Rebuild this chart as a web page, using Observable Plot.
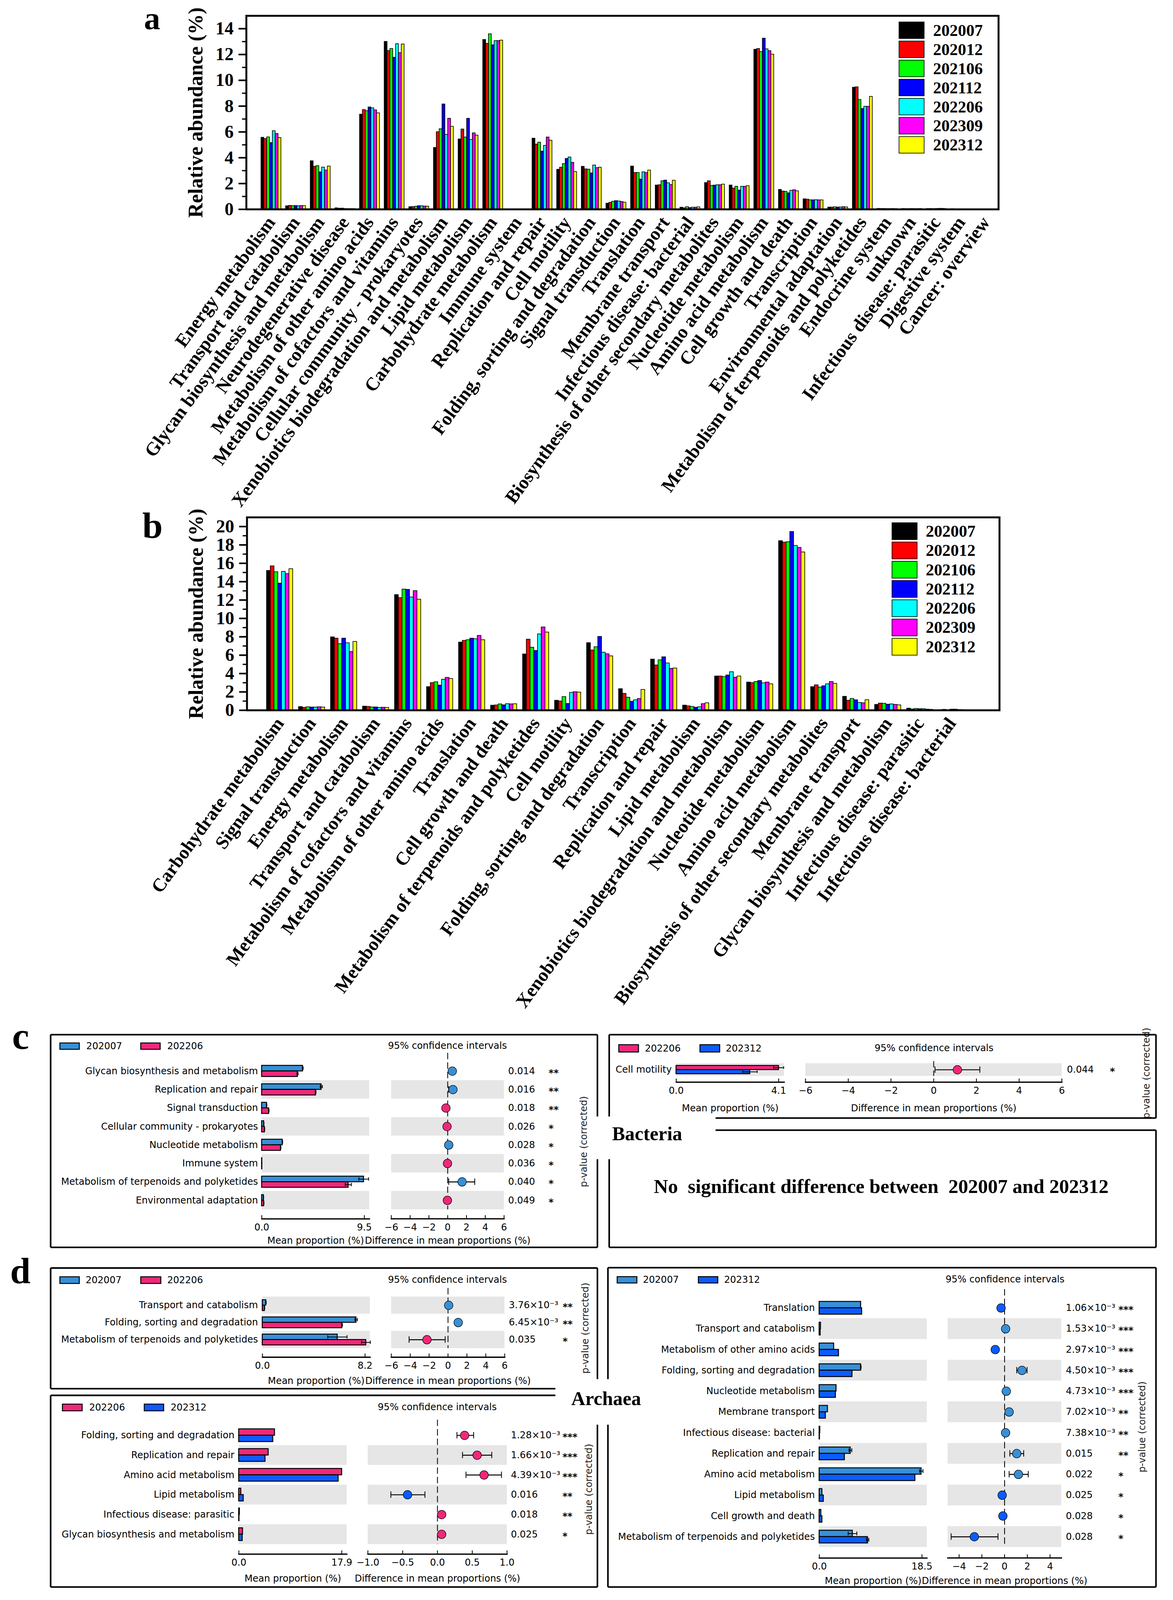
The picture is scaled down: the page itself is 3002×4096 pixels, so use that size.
<!DOCTYPE html>
<html><head><meta charset="utf-8">
<script src="https://cdn.jsdelivr.net/npm/d3@7"></script>
<script src="https://cdn.jsdelivr.net/npm/@observablehq/plot@0.6"></script>
<style>
html,body{margin:0;padding:0;background:#fff}
#fig{position:relative;width:3002px;height:4096px;overflow:hidden;background:#fff}
#fig svg{position:absolute;overflow:visible}
</style></head><body><div id="fig"></div>
<script>
// ---------------- DATA ----------------
const seriesNames = ["202007","202012","202106","202112","202206","202309","202312"];

const catsA = ["Energy metabolism","Transport and catabolism","Glycan biosynthesis and metabolism","Neurodegenerative disease","Metabolism of other amino acids","Metabolism of cofactors and vitamins","Cellular community - prokaryotes","Xenobiotics biodegradation and metabolism","Lipid metabolism","Carbohydrate metabolism","Immune system","Replication and repair","Cell motility","Folding, sorting and degradation","Signal transduction","Translation","Membrane transport","Infectious disease: bacterial","Biosynthesis of other secondary metabolites","Nucleotide metabolism","Amino acid metabolism","Cell growth and death","Transcription","Environmental adaptation","Metabolism of terpenoids and polyketides","Endocrine system","unknown","Infectious disease: parasitic","Digestive system","Cancer: overview"];
const a202007 = [5.57,0.26,3.75,0.10,7.36,13.00,0.19,4.78,5.44,13.15,0.02,5.50,3.09,3.32,0.46,3.34,1.87,0.15,2.06,1.87,12.39,1.53,0.80,0.16,9.45,0.06,0.05,0.05,0.03,0.02];
const a202012 = [5.47,0.29,3.32,0.07,7.72,12.29,0.20,6.00,6.21,12.85,0.02,5.04,3.25,3.12,0.53,2.84,1.89,0.10,2.20,1.63,12.45,1.40,0.77,0.16,9.48,0.05,0.04,0.05,0.02,0.01];
const a202106 = [5.60,0.27,3.37,0.08,7.63,12.45,0.22,6.23,5.59,13.59,0.02,5.19,3.53,3.10,0.61,2.84,2.20,0.19,1.84,1.77,12.21,1.38,0.72,0.18,8.50,0.05,0.04,0.04,0.02,0.01];
const a202112 = [5.16,0.28,2.89,0.05,7.92,11.77,0.27,8.15,7.04,12.74,0.02,4.50,3.93,2.81,0.66,2.33,2.25,0.12,1.86,1.48,13.25,1.26,0.72,0.16,7.80,0.04,0.05,0.05,0.02,0.01];
const a202206 = [6.08,0.26,3.26,0.04,7.85,12.82,0.26,5.79,5.40,13.06,0.02,4.94,4.04,3.42,0.63,2.89,2.04,0.15,1.89,1.77,12.42,1.46,0.73,0.17,7.97,0.04,0.04,0.06,0.02,0.01];
const a202309 = [5.86,0.28,3.03,0.04,7.69,12.13,0.24,7.04,5.91,13.06,0.02,5.59,3.63,3.22,0.59,2.84,1.91,0.15,1.89,1.77,12.28,1.50,0.72,0.19,7.97,0.05,0.04,0.06,0.02,0.01];
const a202312 = [5.55,0.27,3.34,0.04,7.46,12.80,0.23,6.42,5.74,13.10,0.02,5.34,2.91,3.25,0.54,3.03,2.24,0.18,1.94,1.82,12.01,1.42,0.72,0.17,8.74,0.04,0.05,0.05,0.02,0.01];

const catsB = ["Carbohydrate metabolism","Signal transduction","Energy metabolism","Transport and catabolism","Metabolism of cofactors and vitamins","Metabolism of other amino acids","Translation","Cell growth and death","Metabolism of terpenoids and polyketides","Cell motility","Folding, sorting and degradation","Transcription","Replication and repair","Lipid metabolism","Xenobiotics biodegradation and metabolism","Nucleotide metabolism","Amino acid metabolism","Biosynthesis of other secondary metabolites","Membrane transport","Glycan biosynthesis and metabolism","Infectious disease: parasitic","Infectious disease: bacterial"];
const b202007 = [15.20,0.38,7.97,0.43,12.57,2.55,7.40,0.53,6.11,1.07,7.34,2.33,5.55,0.54,3.71,3.05,18.44,2.55,1.50,0.62,0.21,0.05];
const b202012 = [15.70,0.30,7.83,0.40,12.24,2.99,7.59,0.56,7.72,0.99,6.54,1.82,4.91,0.46,3.71,2.99,18.28,2.75,1.07,0.76,0.12,0.08];
const b202106 = [15.06,0.36,7.23,0.34,13.17,3.08,7.66,0.67,6.84,1.47,6.90,1.40,5.47,0.40,3.64,3.11,18.33,2.51,1.26,0.74,0.18,0.04];
const b202112 = [13.82,0.33,7.83,0.34,13.14,2.72,7.83,0.57,6.49,0.72,8.02,0.96,5.80,0.31,3.82,3.22,19.44,2.65,1.12,0.64,0.15,0.10];
const b202206 = [15.10,0.33,7.33,0.29,12.31,3.36,7.76,0.70,8.29,1.93,6.30,1.12,5.13,0.36,4.18,2.96,17.92,2.86,0.83,0.67,0.15,0.10];
const b202309 = [14.86,0.36,6.37,0.31,13.00,3.56,8.13,0.67,9.05,2.00,6.13,1.26,4.54,0.70,3.58,3.05,17.71,3.11,0.79,0.62,0.10,0.06];
const b202312 = [15.39,0.33,7.47,0.29,12.07,3.44,7.66,0.69,8.49,1.96,5.90,2.25,4.58,0.79,3.71,2.86,17.21,2.91,1.13,0.57,0.08,0.05];

// STAMP c (Bacteria) 202007 vs 202206
const cL_names = ["Glycan biosynthesis and metabolism","Replication and repair","Signal transduction","Cellular community - prokaryotes","Nucleotide metabolism","Immune system","Metabolism of terpenoids and polyketides","Environmental adaptation"];
const cL_m1 = [3.79,5.51,0.45,0.19,1.91,0.02,9.44,0.16];
const cL_e1 = [0.04,0.10,0.02,0.01,0.02,0,0.45,0.01];
const cL_m2 = [3.31,4.99,0.65,0.26,1.75,0.02,8.01,0.19];
const cL_e2 = [0.05,0.03,0.02,0.01,0.02,0,0.28,0.01];
const cL_d  = [0.49,0.56,-0.19,-0.07,0.11,-0.02,1.53,-0.03];
const cL_lo = [0.40,0.10,-0.25,-0.09,0.05,-0.03,0.11,-0.05];
const cL_hi = [0.58,0.70,-0.13,-0.05,0.17,-0.01,2.88,-0.01];
const cL_p  = ["0.014","0.016","0.018","0.026","0.028","0.036","0.040","0.049"];
const cL_st = ["**","**","**","*","*","*","*","*"];

// STAMP c (Bacteria) 202206 vs 202312
const cR_names = ["Cell motility"];
const cR_m1 = [4.10]; const cR_e1 = [0.20];
const cR_m2 = [2.95]; const cR_e2 = [0.29];
const cR_d = [1.11]; const cR_lo = [0.06]; const cR_hi = [2.16];
const cR_p = ["0.044"]; const cR_st = ["*"];

// STAMP d (Archaea) 202007 vs 202206
const dA_names = ["Transport and catabolism","Folding, sorting and degradation","Metabolism of terpenoids and polyketides"];
const dA_m1 = [0.28,7.49,5.99]; const dA_e1 = [0.02,0.10,0.77];
const dA_m2 = [0.17,6.36,8.27]; const dA_e2 = [0.01,0.03,0.35];
const dA_d = [0.07,1.08,-2.23]; const dA_lo = [0.03,0.95,-4.12]; const dA_hi = [0.11,1.21,-0.30];
const dA_p = ["3.76×10⁻³","6.45×10⁻³","0.035"]; const dA_st = ["**","**","*"];

// STAMP d (Archaea) 202206 vs 202312
const dB_names = ["Folding, sorting and degradation","Replication and repair","Amino acid metabolism","Lipid metabolism","Infectious disease: parasitic","Glycan biosynthesis and metabolism"];
const dB_m1 = [6.23,5.13,17.91,0.37,0.12,0.67]; const dB_e1 = [0,0,0,0,0,0];
const dB_m2 = [5.93,4.58,17.30,0.79,0.06,0.61]; const dB_e2 = [0,0,0,0,0,0];
const dB_d = [0.39,0.57,0.67,-0.43,0.06,0.06];
const dB_lo = [0.28,0.36,0.41,-0.67,0.05,0.05];
const dB_hi = [0.52,0.78,0.92,-0.18,0.07,0.07];
const dB_p = ["1.28×10⁻³","1.66×10⁻³","4.39×10⁻³","0.016","0.018","0.025"]; const dB_st = ["***","***","***","**","**","*"];

// STAMP d (Archaea) 202007 vs 202312
const dC_names = ["Translation","Transport and catabolism","Metabolism of other amino acids","Folding, sorting and degradation","Nucleotide metabolism","Membrane transport","Infectious disease: bacterial","Replication and repair","Amino acid metabolism","Lipid metabolism","Cell growth and death","Metabolism of terpenoids and polyketides"];
const dC_m1 = [7.48,0.25,2.62,7.48,3.05,1.50,0.12,5.61,18.38,0.50,0.31,5.98];
const dC_e1 = [0,0,0,0.05,0,0,0,0.25,0.30,0,0,0.78];
const dC_m2 = [7.66,0.19,3.49,5.92,2.93,1.12,0.06,4.55,17.26,0.75,0.50,8.72];
const dC_e2 = [0,0,0,0,0,0,0,0,0,0,0,0.20];
const dC_d = [-0.31,0.09,-0.82,1.53,0.15,0.40,0.09,1.07,1.22,-0.21,-0.15,-2.66];
const dC_lo = [-0.35,0.07,-0.90,1.07,0.12,0.35,0.07,0.46,0.40,-0.25,-0.18,-4.70];
const dC_hi = [-0.27,0.11,-0.74,1.98,0.18,0.45,0.11,1.68,2.08,-0.17,-0.12,-0.58];
const dC_p = ["1.06×10⁻³","1.53×10⁻³","2.97×10⁻³","4.50×10⁻³","4.73×10⁻³","7.02×10⁻³","7.38×10⁻³","0.015","0.022","0.025","0.028","0.028"];
const dC_st = ["***","***","***","***","***","**","**","**","*","*","*","*"];

// ---------------- STYLE / LAYOUT ----------------
const S = 0.815;
const SERIF = "'Liberation Serif','Times New Roman',serif";
const SANS = "'DejaVu Sans',Verdana,sans-serif";
const seriesColors = ["#000000","#ff0000","#00ff00","#0000ff","#00ffff","#ff00ff","#ffff00"];
const C07 = "#3790d7", C06 = "#f0287a", C12 = "#0b5cff";
const fig = document.getElementById("fig");

function place(svg, left, top) {
  svg.style.left = (left * S) + "px";
  svg.style.top = (top * S) + "px";
  fig.appendChild(svg);
}

function grouped(cfg) {
  const {cats, series, top, svgH, fL, fR, fT, fB, yMax, pi, po, align} = cfg;
  const n = cats.length, m = series.length;
  const step = (fR - fL) * S / (n - pi + 2 * po);
  const w = step * (1 - pi) / m;
  const data = series.flatMap((vals, k) => vals.map((v, i) => ({cat: cats[i], k, value: v})));
  const svg = Plot.plot({
    width: 3679 * S, height: svgH * S,
    marginLeft: fL * S, marginRight: (3679 - fR) * S,
    marginTop: (fT - top) * S, marginBottom: (top + svgH - fB) * S,
    style: {fontFamily: SERIF, fontWeight: "bold", background: "transparent", overflow: "visible", color: "#000"},
    x: {type: "band", domain: cats, paddingInner: pi, paddingOuter: po, align, round: false},
    y: {domain: [0, yMax]},
    marks: [
      ...series.map((_, k) => Plot.barY(data.filter(d => d.k === k), {
        x: "cat", y: "value", fill: seriesColors[k], stroke: "#000", strokeWidth: 2 * S,
        insetLeft: k * w, insetRight: (m - 1 - k) * w
      })),
      Plot.frame({stroke: "#000", strokeWidth: 6 * S}),
      Plot.axisY({ticks: d3.range(0, yMax + 0.01, 2), tickSize: 24 * S, tickPadding: 16 * S, strokeWidth: 5 * S,
        fontSize: 57 * S, label: null}),
      Plot.axisY({ticks: [], tickSize: 0, fontSize: 64 * S, label: "Relative abundance (%)", labelAnchor: "center", labelOffset: 184 * S, labelArrow: "none"}),
      Plot.axisY({ticks: d3.range(1, yMax, 2), tickSize: 13 * S, strokeWidth: 4 * S, tickFormat: () => "", label: null}),
      Plot.axisX({tickSize: 0, tickRotate: -54, tickPadding: 30 * S, fontSize: 59 * S, label: null})
    ]
  });
  place(svg, 0, top);
}

grouped({cats: catsA, series: [a202007,a202012,a202106,a202112,a202206,a202309,a202312],
  top: 0, svgH: 1610, fL: 773, fR: 3135, fT: 49, fB: 657, yMax: 15, pi: 0.193, po: 0.358, align: 0.84});
grouped({cats: catsB, series: [b202007,b202012,b202106,b202112,b202206,b202309,b202312],
  top: 1560, svgH: 1640, fL: 775, fR: 3138, fT: 1625, fB: 2231, yMax: 21, pi: 0.184, po: 0.848, align: 0.364});

function stamp(c) {
  const rows = c.names.map((name, i) => ({name, m1: c.m1[i], e1: c.e1[i], m2: c.m2[i], e2: c.e2[i],
    d: c.d[i], lo: c.lo[i], hi: c.hi[i], p: c.p[i], st: c.st[i]}));
  const n = rows.length;
  const gray = c.names.filter((_, i) => (n - 1 - i) % 2 === 0);
  const top = c.frameTop - 10, bottom = c.axisY + 110;
  const yr = [(c.rowTop - top) * S, (c.rowBottom - top) * S];
  const step = (yr[1] - yr[0]) / n;
  const bh = c.barH * S;
  const common = {
    height: (bottom - top) * S,
    marginTop: (c.frameTop - top) * S,
    marginBottom: (bottom - c.axisY) * S,
    style: {fontFamily: SANS, fontSize: (29.5 * S) + "px", background: "transparent", overflow: "visible", color: "#000"}
  };
  const yScale = {type: "band", domain: c.names, range: yr, padding: 0, round: false};
  const cap = bh * 0.3;
  const tickOpts = {tickSize: -11 * S, tickPadding: 26 * S, strokeWidth: 2.5 * S, labelAnchor: "center", labelOffset: c.labOff * S, labelArrow: "none"};
  const meanSvg = Plot.plot({
    ...common,
    width: (c.meanRight - c.boxLeft) * S,
    marginLeft: (c.meanLeft - c.boxLeft) * S, marginRight: 0,
    x: {domain: [0, c.meanMax]},
    y: yScale,
    marks: [
      Plot.barX(gray, {y: d => d, x1: 0, x2: c.meanMax, fill: "#e6e6e6"}),
      Plot.barX(rows, {y: "name", x: "m1", fill: c.c1, stroke: "#000", strokeWidth: 3 * S, insetTop: step / 2 - bh, insetBottom: step / 2}),
      Plot.barX(rows, {y: "name", x: "m2", fill: c.c2, stroke: "#000", strokeWidth: 3 * S, insetTop: step / 2, insetBottom: step / 2 - bh}),
      Plot.ruleY(rows.filter(d => d.e1 > 0), {y: "name", x1: d => d.m1 - d.e1, x2: d => d.m1 + d.e1, dy: -bh / 2, stroke: "#000", strokeWidth: 2.5 * S}),
      Plot.ruleY(rows.filter(d => d.e2 > 0), {y: "name", x1: d => d.m2 - d.e2, x2: d => d.m2 + d.e2, dy: bh / 2, stroke: "#000", strokeWidth: 2.5 * S}),
      Plot.tickX(rows.filter(d => d.e1 > 0), {y: "name", x: d => d.m1 + d.e1, insetTop: step / 2 - bh / 2 - cap, insetBottom: step / 2 + bh / 2 - cap, strokeWidth: 2.5 * S}),
      Plot.tickX(rows.filter(d => d.e1 > 0), {y: "name", x: d => d.m1 - d.e1, insetTop: step / 2 - bh / 2 - cap, insetBottom: step / 2 + bh / 2 - cap, strokeWidth: 2.5 * S}),
      Plot.tickX(rows.filter(d => d.e2 > 0), {y: "name", x: d => d.m2 + d.e2, insetTop: step / 2 + bh / 2 - cap, insetBottom: step / 2 - bh / 2 - cap, strokeWidth: 2.5 * S}),
      Plot.tickX(rows.filter(d => d.e2 > 0), {y: "name", x: d => d.m2 - d.e2, insetTop: step / 2 + bh / 2 - cap, insetBottom: step / 2 - bh / 2 - cap, strokeWidth: 2.5 * S}),
      Plot.frame({anchor: "bottom", stroke: "#000", strokeWidth: 4 * S}),
      Plot.axisX({...tickOpts, ticks: [0, c.meanTick], tickFormat: d => d.toFixed(1), label: "Mean proportion (%)"}),
      Plot.axisY({tickSize: 0, tickPadding: (c.meanLeft - c.labelRight) * S, label: null})
    ]
  });
  place(meanSvg, c.boxLeft, top);
  const fmt = c.diffFmt || (d => String(d).replace("-", "−"));
  const diffSvg = Plot.plot({
    ...common,
    width: (c.boxRight - c.diffLeft) * S,
    marginLeft: 0, marginRight: (c.boxRight - c.diffRight) * S,
    x: {domain: c.diffDomain},
    y: {...yScale, axis: null},
    marks: [
      Plot.barX(gray, {y: d => d, x1: c.diffDomain[0], x2: c.diffDomain[1], fill: "#e6e6e6"}),
      Plot.ruleX([0], {stroke: "#000", strokeWidth: 2.5 * S, strokeDasharray: `${20 * S},${10 * S}`, insetBottom: (c.axisY - c.rowBottom) * S}),
      Plot.ruleY(rows, {y: "name", x1: "lo", x2: "hi", stroke: "#000", strokeWidth: 3 * S}),
      Plot.tickX(rows, {y: "name", x: "lo", insetTop: step / 2 - 10 * S, insetBottom: step / 2 - 10 * S, strokeWidth: 2.5 * S}),
      Plot.tickX(rows, {y: "name", x: "hi", insetTop: step / 2 - 10 * S, insetBottom: step / 2 - 10 * S, strokeWidth: 2.5 * S}),
      Plot.dot(rows.filter(d => d.d >= 0), {x: "d", y: "name", r: 13.5 * S, fill: c.c1, stroke: "#000", strokeWidth: 1.5 * S}),
      Plot.dot(rows.filter(d => d.d < 0), {x: "d", y: "name", r: 13.5 * S, fill: c.c2, stroke: "#000", strokeWidth: 1.5 * S}),
      Plot.text(rows, {y: "name", text: "p", frameAnchor: "right", textAnchor: "start", dx: (c.pX - c.diffRight) * S, fontSize: 29.5 * S}),
      Plot.text(rows, {y: "name", text: "st", frameAnchor: "right", textAnchor: "start", dx: (c.starX - c.diffRight) * S, dy: 6 * S, fontSize: 30 * S, fontWeight: "bold"}),
      Plot.frame({anchor: "bottom", stroke: "#000", strokeWidth: 4 * S}),
      Plot.axisX({...tickOpts, ticks: c.diffTicks, tickFormat: fmt, label: "Difference in mean proportions (%)"})
    ]
  });
  place(diffSvg, c.diffLeft, top);
}

const six = [-6,-4,-2,0,2,4,6];
stamp({names: cL_names, m1: cL_m1, e1: cL_e1, m2: cL_m2, e2: cL_e2, d: cL_d, lo: cL_lo, hi: cL_hi, p: cL_p, st: cL_st, c1: C07, c2: C06,
  boxLeft: 159, boxRight: 1876, frameTop: 3307, rowTop: 3335, rowBottom: 3799, axisY: 3828, labOff: 78,
  labelRight: 809, meanLeft: 821, meanRight: 1159, meanMax: 9.97, meanTick: 9.5,
  diffLeft: 1228, diffRight: 1582, diffDomain: [-6, 6], diffTicks: six, pX: 1595, starX: 1722, barH: 17.5});
stamp({names: cR_names, m1: cR_m1, e1: cR_e1, m2: cR_m2, e2: cR_e2, d: cR_d, lo: cR_lo, hi: cR_hi, p: cR_p, st: cR_st, c1: C06, c2: C12,
  boxLeft: 1913, boxRight: 3630, frameTop: 3333, rowTop: 3340, rowBottom: 3380, axisY: 3399, labOff: 92,
  labelRight: 2109, meanLeft: 2123, meanRight: 2462, meanMax: 4.32, meanTick: 4.1,
  diffLeft: 2529, diffRight: 3334, diffDomain: [-6, 6], diffTicks: six, pX: 3350, starX: 3485, barH: 13});
stamp({names: dA_names, m1: dA_m1, e1: dA_e1, m2: dA_m2, e2: dA_e2, d: dA_d, lo: dA_lo, hi: dA_hi, p: dA_p, st: dA_st, c1: C07, c2: C06,
  boxLeft: 159, boxRight: 1876, frameTop: 4045, rowTop: 4072, rowBottom: 4234, axisY: 4262, labOff: 84,
  labelRight: 809, meanLeft: 823, meanRight: 1161, meanMax: 8.6, meanTick: 8.2,
  diffLeft: 1228, diffRight: 1584, diffDomain: [-6, 6], diffTicks: six, pX: 1597, starX: 1766, barH: 17});
stamp({names: dB_names, m1: dB_m1, e1: dB_e1, m2: dB_m2, e2: dB_e2, d: dB_d, lo: dB_lo, hi: dB_hi, p: dB_p, st: dB_st, c1: C06, c2: C12,
  boxLeft: 159, boxRight: 1876, frameTop: 4459, rowTop: 4477, rowBottom: 4850, axisY: 4881, labOff: 86,
  labelRight: 735, meanLeft: 749, meanRight: 1088, meanMax: 18.78, meanTick: 17.9,
  diffLeft: 1155, diffRight: 1592, diffDomain: [-1, 1], diffTicks: [-1,-0.5,0,0.5,1], diffFmt: d => d.toFixed(1).replace("-", "−"),
  pX: 1604, starX: 1766, barH: 20});
stamp({names: dC_names, m1: dC_m1, e1: dC_e1, m2: dC_m2, e2: dC_e2, d: dC_d, lo: dC_lo, hi: dC_hi, p: dC_p, st: dC_st, c1: C07, c2: C12,
  boxLeft: 1909, boxRight: 3630, frameTop: 4049, rowTop: 4075, rowBottom: 4859, axisY: 4893, labOff: 81,
  labelRight: 2558, meanLeft: 2572, meanRight: 2910, meanMax: 19.4, meanTick: 18.5,
  diffLeft: 2976, diffRight: 3333, diffDomain: [-5, 5], diffTicks: [-4,-2,0,2,4], pX: 3347, starX: 3512, barH: 20});

// ---------------- OVERLAY: legends, labels, boxes ----------------
const ov = d3.create("svg").attr("width", 3002).attr("height", 4096)
  .style("left", "0px").style("top", "0px").style("pointer-events", "none");
function T(x, y, s, o = {}) {
  const t = ov.append("text").attr("x", x * S).attr("y", y * S).text(s)
    .attr("font-family", o.family || SANS).attr("font-size", (o.size || 29.5) * S)
    .attr("font-weight", o.weight || "normal").attr("fill", o.fill || "#000")
    .attr("text-anchor", o.anchor || "start").style("white-space", "pre");
  if (o.base) t.attr("dominant-baseline", o.base);
  if (o.rotate) t.attr("transform", `rotate(${o.rotate},${x * S},${y * S})`);
  return t;
}
function R(x, y, w, h, fill, sw) {
  ov.append("rect").attr("x", x * S).attr("y", y * S).attr("width", w * S).attr("height", h * S)
    .attr("fill", fill).attr("stroke", "#000").attr("stroke-width", sw * S);
}
// panel a / b legends
seriesNames.forEach((s, k) => {
  R(2823, 69 + k * 60, 79, 52, seriesColors[k], 2);
  T(2930, 95 + k * 60, s, {family: SERIF, weight: "bold", size: 52, base: "central"});
  R(2801, 1642 + k * 60.5, 79, 53, seriesColors[k], 2);
  T(2907, 1668 + k * 60.5, s, {family: SERIF, weight: "bold", size: 52, base: "central"});
});
// panel letters
T(452, 92, "a", {family: SERIF, weight: "bold", size: 102});
T(447, 1689, "b", {family: SERIF, weight: "bold", size: 115});
T(38, 3294, "c", {family: SERIF, weight: "bold", size: 120});
T(32, 4031, "d", {family: SERIF, weight: "bold", size: 115});
T(1922, 3582, "Bacteria", {family: SERIF, weight: "bold", size: 61});
T(1794, 4414, "Archaea", {family: SERIF, weight: "bold", size: 61});
T(2767, 3747, "No  significant difference between  202007 and 202312", {family: SERIF, weight: "bold", size: 62, anchor: "middle"});
// STAMP legends
function leg(y, b1, t1, c1, l1, b2, t2, c2, l2, h, ciX, ciY) {
  R(b1[0], y - h / 2, b1[1] - b1[0], h, c1, 3);
  T(t1, y, l1, {base: "central"});
  R(b2[0], y - h / 2, b2[1] - b2[0], h, c2, 3);
  T(t2, y, l2, {base: "central"});
  T(ciX, ciY, "95% confidence intervals", {anchor: "middle", base: "central"});
}
leg(3286, [188,249], 271, C07, "202007", [442,503], 525, C06, "202206", 20, 1405, 3285);
leg(3293, [1943,2005], 2025, C06, "202206", [2198,2260], 2279, C12, "202312", 23, 2933, 3292);
leg(4021, [188,249], 269, C07, "202007", [442,505], 525, C06, "202206", 21, 1405, 4020);
leg(4421, [196,258], 280, C06, "202206", [453,514], 536, C12, "202312", 21, 1373, 4420);
leg(4020, [1938,2000], 2019, C07, "202007", [2193,2254], 2274, C12, "202312", 20, 3156, 4018);
// p-value (corrected) labels
[[1832,3586],[3600,3371],[1838,4172],[1849,4678],[3586,4482]].forEach(([x, y]) =>
  T(x, y, "p-value (corrected)", {anchor: "middle", base: "central", rotate: -90, size: 30, fill: "#222"}));
// box lines
const boxPaths = [
  "M159,3250H1876 M159,3250V3918 M159,3918H1876 M1876,3250V3507 M1876,3641V3918",
  "M1913,3250H3630 M1913,3250V3507 M2247,3512H3630 M3630,3250V3512 M2247,3550H3630 M1913,3641V3918 M1913,3918H3630 M3630,3550V3918",
  "M159,3983H1876 M159,3983V4362 M159,4362H1744 M1876,3983V4332",
  "M159,4383H1744 M159,4383V4985 M159,4985H1876 M1876,4475V4985",
  "M1909,3982H3630 M1909,3982V4332 M1909,4475V4985 M1909,4985H3630 M3630,3982V4985"
];
boxPaths.forEach(p => ov.append("path").attr("d", p).attr("transform", `scale(${S})`)
  .attr("fill", "none").attr("stroke", "#000").attr("stroke-width", 5));
fig.appendChild(ov.node());
</script></body></html>
